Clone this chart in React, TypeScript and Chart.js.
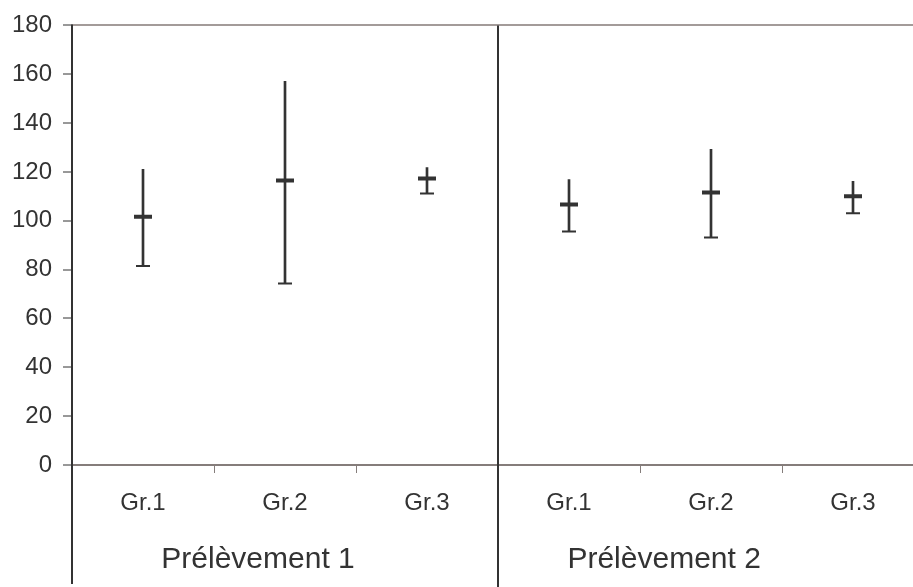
import React, { useEffect, useRef } from "react";
import { Chart, registerables } from "chart.js";

Chart.register(...registerables);

// Groups per sampling, and the sampling names shown under them
const categories = ["Gr.1", "Gr.2", "Gr.3", "Gr.1", "Gr.2", "Gr.3"];
const samplings = ["Prélèvement 1", "Prélèvement 2"];
// where each sampling name sits along the category axis (category units)
const samplingAt = [0.81, 3.67];

// Mean value and its range (low / high) for each group
const means = [101.7, 116.5, 117.3, 106.7, 111.6, 110.0];
const lows = [81.5, 74.3, 111.2, 95.6, 93.2, 103.1];
const highs = [121.1, 157.1, 121.8, 116.9, 129.3, 116.2];

// Y axis
const yMin = 0;
const yMax = 180;
const yStep = 20;

const INK = "#333333";
const AXIS_GREY = "#857d7b";
const TOP_GREY = "#a39b99";
const FONT = "'Liberation Sans', Arial, sans-serif";

const W = 913;
const H = 587;
// the plot area carries on a little past the right edge of the canvas
const PLOT_RIGHT = 924;

const extendRight = {
  id: "extendRight",
  afterLayout(chart: any) {
    const area = chart.chartArea;
    const x = chart.scales.x;
    area.right = PLOT_RIGHT;
    area.width = area.right - area.left;
    x.right = PLOT_RIGHT;
    x.width = x.right - x.left;
    x.configure();
  },
};

const frameLines = {
  id: "frameLines",
  afterDraw(chart: any) {
    const { ctx, chartArea, scales } = chart;
    const x = scales.x;
    ctx.save();
    ctx.strokeStyle = INK;
    // y axis line, running down through the label rows
    ctx.lineWidth = 2;
    ctx.beginPath();
    ctx.moveTo(chartArea.left, chartArea.top - 1);
    ctx.lineTo(chartArea.left, 584);
    ctx.stroke();
    // separator between the two samplings
    const sep = x.getPixelForValue(2.5);
    ctx.lineWidth = 2;
    ctx.beginPath();
    ctx.moveTo(sep, chartArea.top);
    ctx.lineTo(sep, H);
    ctx.stroke();
    // sampling names under their groups
    ctx.fillStyle = INK;
    ctx.font = `30px ${FONT}`;
    ctx.textAlign = "center";
    ctx.textBaseline = "alphabetic";
    samplings.forEach((name, i) => {
      ctx.fillText(name, x.getPixelForValue(samplingAt[i]), 568);
    });
    ctx.restore();
  },
};

export default function App() {
  const ref = useRef<HTMLCanvasElement | null>(null);

  useEffect(() => {
    if (!ref.current) return;
    const chart = new Chart(ref.current, {
      type: "bar",
      data: {
        labels: categories,
        datasets: [
          {
            type: "line",
            data: means,
            showLine: false,
            pointStyle: "line",
            pointRadius: 9,
            pointBorderWidth: 4,
            borderColor: INK,
            backgroundColor: INK,
            order: 0,
          } as any,
          {
            type: "line",
            data: lows,
            showLine: false,
            pointStyle: "line",
            pointRadius: 7,
            pointBorderWidth: 2,
            borderColor: INK,
            backgroundColor: INK,
            order: 1,
          } as any,
          {
            type: "bar",
            data: lows.map((lo, i) => [lo, highs[i]]),
            backgroundColor: INK,
            borderWidth: 0,
            barThickness: 2,
            order: 2,
          } as any,
        ],
      },
      options: {
        responsive: false,
        maintainAspectRatio: false,
        animation: false,
        layout: { padding: { top: 25, right: 0, left: 0, bottom: 0 } },
        plugins: { legend: { display: false }, tooltip: { enabled: false } },
        scales: {
          x: {
            offset: true,
            grid: {
              offset: true,
              drawOnChartArea: false,
              tickLength: 8,
              tickColor: AXIS_GREY,
              tickWidth: 1,
            },
            border: { color: AXIS_GREY, width: 2 },
            ticks: {
              color: INK,
              font: { family: FONT, size: 24 },
              padding: 16,
            },
            afterFit(scale: any) {
              scale.height = H - 465;
            },
          },
          y: {
            min: yMin,
            max: yMax,
            grid: {
              drawOnChartArea: true,
              color: (c: any) => (c.tick && c.tick.value === yMax ? TOP_GREY : "rgba(0,0,0,0)"),
              lineWidth: 2,
              tickLength: 9,
              tickColor: INK,
              tickWidth: 1,
            },
            border: { display: false },
            ticks: {
              stepSize: yStep,
              color: INK,
              font: { family: FONT, size: 24 },
              padding: 11,
            },
            afterFit(scale: any) {
              scale.width = 72;
            },
          },
        },
      },
      plugins: [extendRight, frameLines],
    });
    return () => chart.destroy();
  }, []);

  return (
    <div style={{ position: "absolute", left: 0, top: 0, width: W, height: H, background: "#fff" }}>
      <canvas ref={ref} width={W} height={H} style={{ display: "block", width: W, height: H }} />
    </div>
  );
}
